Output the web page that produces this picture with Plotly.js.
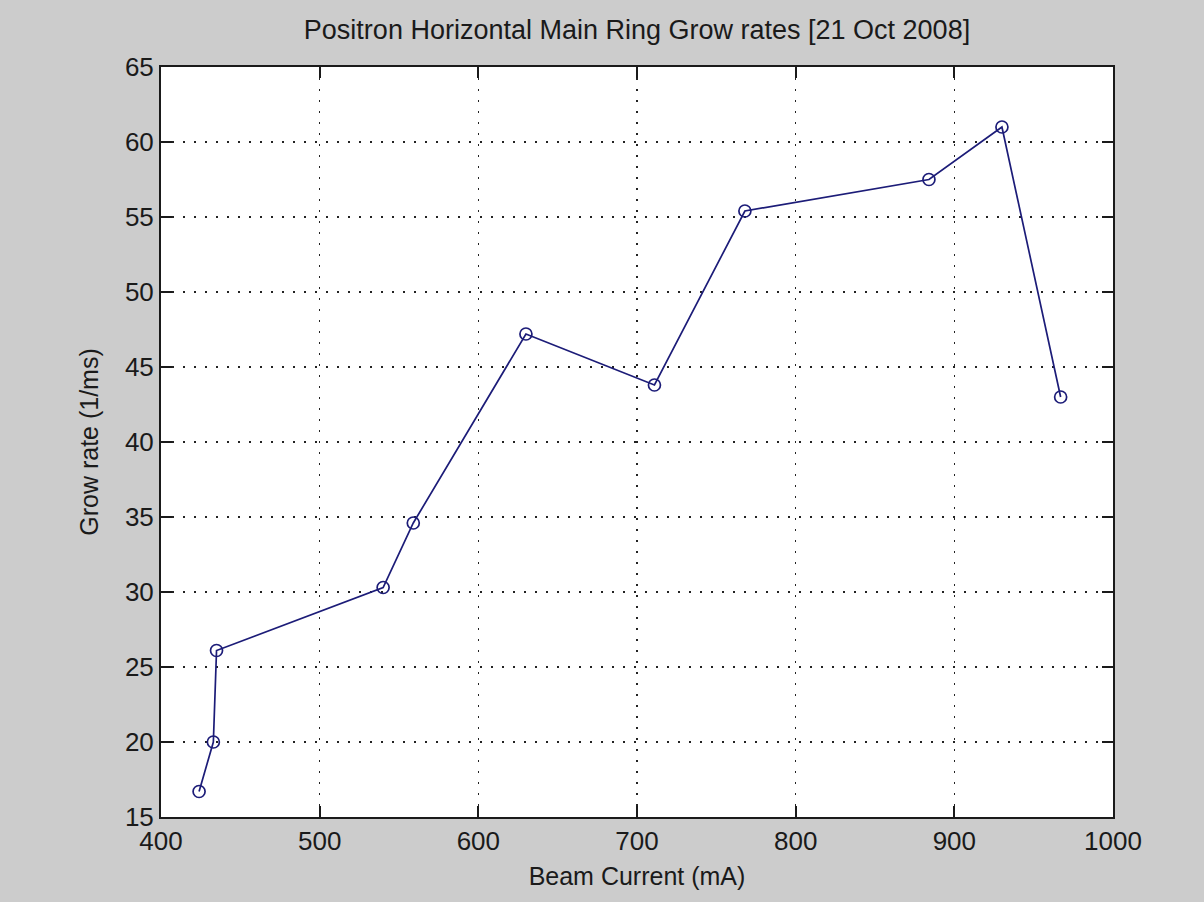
<!DOCTYPE html>
<html>
<head>
<meta charset="utf-8">
<script src="https://cdn.plot.ly/plotly-3.0.1.min.js"></script>
<style>
  html, body { margin: 0; padding: 0; background: #cccccc; }
  #chart { width: 1204px; height: 902px; }
</style>
</head>
<body>
<div id="chart"></div>
<script>
// Beam current (mA) and measured horizontal grow rate (1/ms)
const beamCurrent = [424, 433, 435, 540, 559, 630, 711, 768, 884, 930, 967];
const growRate = [16.7, 20.0, 26.1, 30.3, 34.6, 47.2, 43.8, 55.4, 57.5, 61.0, 43.0];

const xTicks = [400, 500, 600, 700, 800, 900, 1000];
const yTicks = [15, 20, 25, 30, 35, 40, 45, 50, 55, 60, 65];

const fontFamily = 'Liberation Sans, Arial, Helvetica, sans-serif';
const ink = '#1a1a1a';

const axisCommon = {
  showline: true,
  linecolor: ink,
  linewidth: 2,
  mirror: 'ticks',
  ticks: 'inside',
  ticklen: 11,
  tickwidth: 2,
  tickcolor: ink,
  showgrid: true,
  gridcolor: '#222222',
  gridwidth: 1.6,
  griddash: '2px,9px',
  zeroline: false,
  tickfont: { family: fontFamily, size: 26, color: ink },
  fixedrange: true
};

const trace = {
  x: beamCurrent,
  y: growRate,
  type: 'scatter',
  mode: 'lines+markers',
  line: { color: '#1c1c78', width: 1.7 },
  marker: {
    symbol: 'circle-open',
    size: 12,
    color: '#1c1c78',
    line: { color: '#1c1c78', width: 1.7 }
  },
  showlegend: false,
  hoverinfo: 'x+y'
};

const layout = {
  width: 1204,
  height: 902,
  paper_bgcolor: '#cccccc',
  plot_bgcolor: '#ffffff',
  margin: { l: 161, r: 91, t: 67, b: 85 },
  title: {
    text: 'Positron Horizontal Main Ring Grow rates [21 Oct 2008]',
    font: { family: fontFamily, size: 27, color: ink },
    xref: 'paper',
    x: 0.5,
    xanchor: 'center',
    y: 1 - 30 / 902,
    yanchor: 'middle'
  },
  xaxis: Object.assign({}, axisCommon, {
    range: [400, 1000],
    tickmode: 'array',
    tickvals: xTicks,
    ticktext: xTicks.map(String),
    title: { text: 'Beam Current (mA)', font: { family: fontFamily, size: 25, color: ink }, standoff: 12 }
  }),
  yaxis: Object.assign({}, axisCommon, {
    range: [15, 65],
    tickmode: 'array',
    tickvals: yTicks,
    ticktext: yTicks.map(String),
    title: { text: 'Grow rate (1/ms)', font: { family: fontFamily, size: 25, color: ink }, standoff: 19 }
  })
};

Plotly.newPlot('chart', [trace], layout, { displayModeBar: false, staticPlot: true });
</script>
</body>
</html>
